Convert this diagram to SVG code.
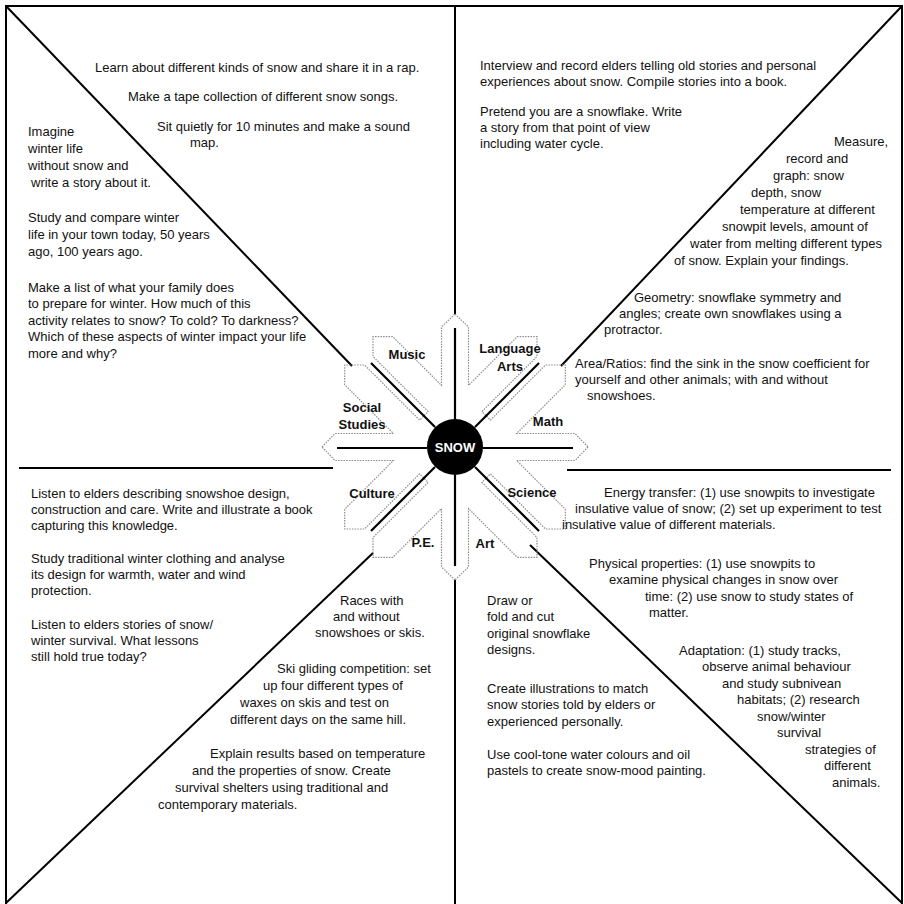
<svg xmlns="http://www.w3.org/2000/svg" xmlns:xlink="http://www.w3.org/1999/xlink" width="904" height="904" viewBox="0 0 904 904">
<style>
.t{font-family:"Liberation Sans",Arial,sans-serif;font-size:13px;fill:#111}
.lb{font-family:"Liberation Sans",Arial,sans-serif;font-size:13px;font-weight:bold;fill:#111;text-anchor:middle}
.fr{stroke:#000;stroke-width:2;fill:none}
.ax{stroke:#000;stroke-width:2.2;fill:none}
.ol{stroke:#8c8c8c;stroke-width:1.2;stroke-dasharray:1.5 1.2;fill:none}
</style>
<defs>
<path id="quarter" d="M0,-133 L13.5,-120 L13.5,-61.6 L62.2,-110.3 L82,-110.3 L82,-90.5 L26.9,-35.4 L35.4,-26.9 L90.5,-82 L110.3,-82 L110.3,-62.2 L61.6,-13.5 L120,-13.5 L133,0"/>
</defs>
<rect width="904" height="904" fill="#fff"/>
<g id="connectors">
<path class="fr" d="M6,904 V6 H902 V904"/>
<line class="fr" x1="6" y1="6" x2="352" y2="366"/>
<line class="fr" x1="455" y1="6" x2="455" y2="314"/>
<line class="fr" x1="902" y1="6" x2="561" y2="366"/>
<line class="fr" x1="19" y1="468" x2="333" y2="468"/>
<line class="fr" x1="567" y1="470" x2="891" y2="470"/>
<line class="fr" x1="6" y1="903" x2="373" y2="553"/>
<line class="fr" x1="455" y1="580" x2="455" y2="904"/>
<line class="fr" x1="530" y1="545" x2="902" y2="903"/>
</g>
<g id="snowflake">
<g class="ol">
<use xlink:href="#quarter" transform="translate(455,447)"/>
<use xlink:href="#quarter" transform="translate(455,447) rotate(90)"/>
<use xlink:href="#quarter" transform="translate(455,447) rotate(180)"/>
<use xlink:href="#quarter" transform="translate(455,447) rotate(270)"/>
</g>
<g class="ax">
<line x1="455" y1="328" x2="455" y2="419"/>
<line x1="455" y1="475" x2="455" y2="566"/>
<line x1="337" y1="448" x2="427" y2="448"/>
<line x1="483" y1="448" x2="573" y2="448"/>
<line x1="371" y1="363" x2="435" y2="427"/>
<line x1="539" y1="363" x2="475" y2="427"/>
<line x1="371" y1="531" x2="435" y2="467"/>
<line x1="539" y1="531" x2="475" y2="467"/>
</g>
</g>
<g id="snow">
<circle cx="455" cy="447" r="28" fill="#000"/>
<text class="lb" x="455" y="451.5" style="fill:#fff">SNOW</text>
</g>
<g id="music">
<text class="lb" x="407" y="358.5">Music</text>
<text class="t" x="95" y="71.5">Learn about different kinds of snow and share it in a rap.</text>
<text class="t" x="128" y="100.5">Make a tape collection of different snow songs.</text>
<text class="t" x="157" y="130.5">Sit quietly for 10 minutes and make a sound</text>
<text class="t" x="190" y="146.5">map.</text>
</g>
<g id="social-studies">
<text class="lb" x="362" y="411.5">Social</text>
<text class="lb" x="362" y="428.5">Studies</text>
<text class="t" x="28" y="135.5">Imagine</text>
<text class="t" x="28" y="152.5">winter life</text>
<text class="t" x="28" y="169.5">without snow and</text>
<text class="t" x="31" y="186.5">write a story about it.</text>
<text class="t" x="28" y="221.5">Study and compare winter</text>
<text class="t" x="28" y="238.5">life in your town today, 50 years</text>
<text class="t" x="28" y="255.5">ago, 100 years ago.</text>
<text class="t" x="28" y="291.5">Make a list of what your family does</text>
<text class="t" x="28" y="308">to prepare for winter. How much of this</text>
<text class="t" x="28" y="324.5">activity relates to snow? To cold? To darkness?</text>
<text class="t" x="28" y="341">Which of these aspects of winter impact your life</text>
<text class="t" x="28" y="357.5">more and why?</text>
</g>
<g id="language-arts">
<text class="lb" x="510" y="352.5">Language</text>
<text class="lb" x="510" y="370.5">Arts</text>
<text class="t" x="480" y="69.5">Interview and record elders telling old stories and personal</text>
<text class="t" x="480" y="85.5">experiences about snow. Compile stories into a book.</text>
<text class="t" x="480" y="115.5">Pretend you are a snowflake. Write</text>
<text class="t" x="480" y="131.5">a story from that point of view</text>
<text class="t" x="480" y="147.5">including water cycle.</text>
</g>
<g id="math">
<text class="lb" x="548" y="425.5">Math</text>
<text class="t" x="834" y="145.5">Measure,</text>
<text class="t" x="786" y="162.5">record and</text>
<text class="t" x="773" y="179.5">graph: snow</text>
<text class="t" x="751" y="196.5">depth, snow</text>
<text class="t" x="740" y="213.5">temperature at different</text>
<text class="t" x="722" y="230.5">snowpit levels, amount of</text>
<text class="t" x="690" y="247.5">water from melting different types</text>
<text class="t" x="674" y="264.5">of snow. Explain your findings.</text>
<text class="t" x="634" y="301.5">Geometry: snowflake symmetry and</text>
<text class="t" x="619" y="317.5">angles; create own snowflakes using a</text>
<text class="t" x="604" y="333.5">protractor.</text>
<text class="t" x="575" y="367.5">Area/Ratios: find the sink in the snow coefficient for</text>
<text class="t" x="575" y="383.5">yourself and other animals; with and without</text>
<text class="t" x="587" y="399.5">snowshoes.</text>
</g>
<g id="culture">
<text class="lb" x="372" y="497.5">Culture</text>
<text class="t" x="31" y="497.5">Listen to elders describing snowshoe design,</text>
<text class="t" x="31" y="513.5">construction and care. Write and illustrate a book</text>
<text class="t" x="31" y="529.5">capturing this knowledge.</text>
<text class="t" x="31" y="562.5">Study traditional winter clothing and analyse</text>
<text class="t" x="31" y="578.5">its design for warmth, water and wind</text>
<text class="t" x="31" y="594.5">protection.</text>
<text class="t" x="31" y="628.5">Listen to elders stories of snow/</text>
<text class="t" x="31" y="644.5">winter survival. What lessons</text>
<text class="t" x="31" y="660.5">still hold true today?</text>
</g>
<g id="pe">
<text class="lb" x="423" y="546.5">P.E.</text>
<text class="t" x="340" y="604.5">Races with</text>
<text class="t" x="333" y="620.5">and without</text>
<text class="t" x="315" y="636.5">snowshoes or skis.</text>
<text class="t" x="277" y="672.5">Ski gliding competition: set</text>
<text class="t" x="263" y="689.5">up four different types of</text>
<text class="t" x="240" y="706.5">waxes on skis and test on</text>
<text class="t" x="230" y="723.5">different days on the same hill.</text>
<text class="t" x="210" y="757.5">Explain results based on temperature</text>
<text class="t" x="192" y="774.5">and the properties of snow. Create</text>
<text class="t" x="175" y="791.5">survival shelters using traditional and</text>
<text class="t" x="158" y="808.5">contemporary materials.</text>
</g>
<g id="art">
<text class="lb" x="485" y="547.5">Art</text>
<text class="t" x="487" y="604.5">Draw or</text>
<text class="t" x="487" y="621">fold and cut</text>
<text class="t" x="487" y="637.5">original snowflake</text>
<text class="t" x="487" y="654">designs.</text>
<text class="t" x="487" y="692.5">Create illustrations to match</text>
<text class="t" x="487" y="709">snow stories told by elders or</text>
<text class="t" x="487" y="725.5">experienced personally.</text>
<text class="t" x="487" y="758.5">Use cool-tone water colours and oil</text>
<text class="t" x="487" y="775">pastels to create snow-mood painting.</text>
</g>
<g id="science">
<text class="lb" x="532" y="496.5">Science</text>
<text class="t" x="604" y="496.5">Energy transfer: (1) use snowpits to investigate</text>
<text class="t" x="575" y="512.5">insulative value of snow; (2) set up experiment to test</text>
<text class="t" x="562" y="528.5">insulative value of different materials.</text>
<text class="t" x="589" y="567.5">Physical properties: (1) use snowpits to</text>
<text class="t" x="609" y="584">examine physical changes in snow over</text>
<text class="t" x="645" y="600.5">time: (2) use snow to study states of</text>
<text class="t" x="649" y="617">matter.</text>
<text class="t" x="679" y="654.5">Adaptation: (1) study tracks,</text>
<text class="t" x="702" y="671">observe animal behaviour</text>
<text class="t" x="722" y="687.5">and study subnivean</text>
<text class="t" x="737" y="704">habitats; (2) research</text>
<text class="t" x="757" y="720.5">snow/winter</text>
<text class="t" x="777" y="737">survival</text>
<text class="t" x="805" y="753.5">strategies of</text>
<text class="t" x="824" y="770">different</text>
<text class="t" x="832" y="786.5">animals.</text>
</g>
</svg>
